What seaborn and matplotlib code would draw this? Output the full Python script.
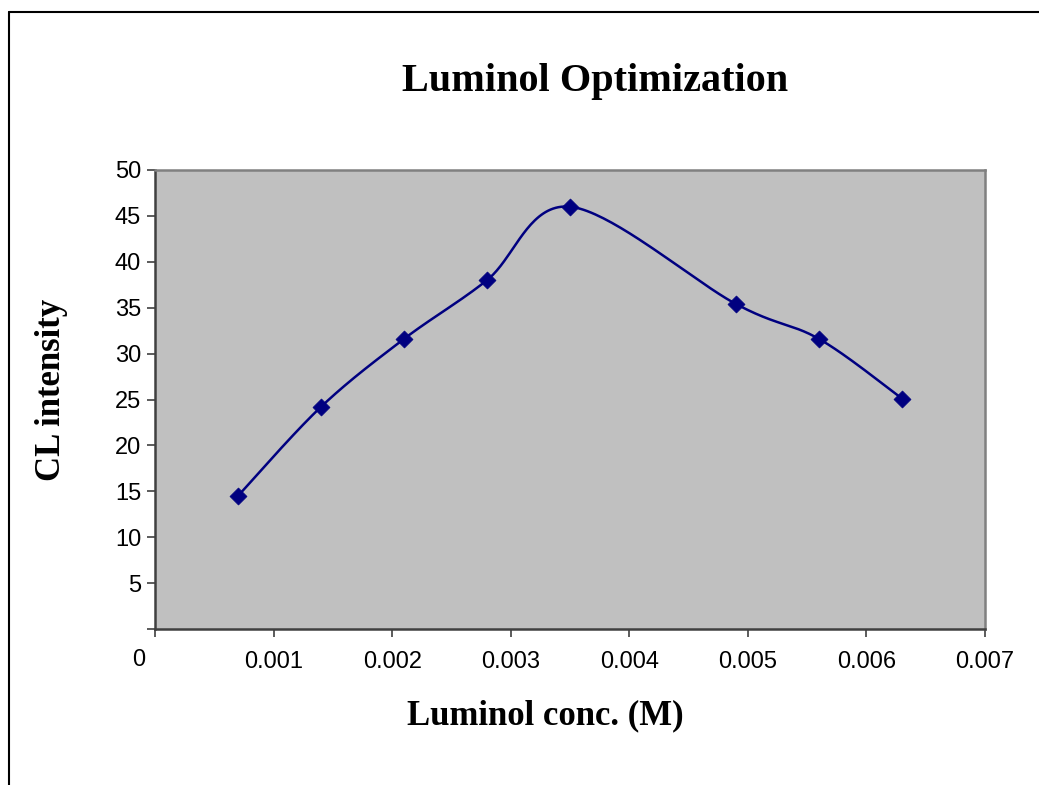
import numpy as np
import pandas as pd
import matplotlib
matplotlib.use("Agg")
import matplotlib.pyplot as plt
import seaborn as sns
from matplotlib.lines import Line2D

# ---- data ----
luminol_conc = [0.0007, 0.0014, 0.0021, 0.0028, 0.0035, 0.0049, 0.0056, 0.0063]
cl_intensity = [14.5, 24.2, 31.6, 38.0, 46.0, 35.4, 31.6, 25.1]
x_ticks = [0, 0.001, 0.002, 0.003, 0.004, 0.005, 0.006, 0.007]
x_tick_labels = ["0", "0.001", "0.002", "0.003", "0.004", "0.005", "0.006", "0.007"]
y_ticks = [0, 5, 10, 15, 20, 25, 30, 35, 40, 45, 50]
y_tick_labels = ["", "5", "10", "15", "20", "25", "30", "35", "40", "45", "50"]
title = "Luminol Optimization"
xlabel = "Luminol conc. (M)"
ylabel = "CL intensity"


def excel_smooth(xs, ys, n=40):
    """Bezier smoothing similar to Excel's smoothed line."""
    P = np.column_stack([xs, ys]).astype(float)
    out = []
    m = len(P)
    for i in range(m - 1):
        p0 = P[i - 1] if i > 0 else P[i]
        p1 = P[i]
        p2 = P[i + 1]
        p3 = P[i + 2] if i + 2 < m else P[i + 1]
        c1 = p1 + (p2 - p0) / 6.0
        c2 = p2 - (p3 - p1) / 6.0
        t = np.linspace(0, 1, n, endpoint=(i == m - 2))[:, None]
        seg = ((1 - t) ** 3) * p1 + 3 * ((1 - t) ** 2) * t * c1 + 3 * (1 - t) * t ** 2 * c2 + t ** 3 * p2
        out.append(seg)
    out = np.vstack(out)
    return out[:, 0], out[:, 1]


sx, sy = excel_smooth(luminol_conc, cl_intensity)
curve = pd.DataFrame({"x": sx, "y": sy})
pts = pd.DataFrame({"x": luminol_conc, "y": cl_intensity})

sns.set_theme(style="white")
plt.rcParams["font.family"] = ["Liberation Sans", "DejaVu Sans"]
plt.rcParams["text.color"] = "black"

W, H = 1039, 785
fig = plt.figure(figsize=(W / 100, H / 100), dpi=100)
ax = fig.add_axes([155 / W, (H - 629) / H, (985 - 155) / W, (629 - 170) / H])
ax.set_facecolor("#c0c0c0")

navy = "#000080"
sns.lineplot(data=curve, x="x", y="y", sort=False, estimator=None, ax=ax,
             color=navy, linewidth=1.8)
sns.scatterplot(data=pts, x="x", y="y", ax=ax, marker="D", s=75,
                color=navy, edgecolor=navy, linewidth=0.5, zorder=5)

ax.set_xlim(0, 0.007)
ax.set_ylim(0, 50)
ax.set_xticks(x_ticks)
ax.set_xticklabels(["" if l == "0" else l for l in x_tick_labels])
ax.set_yticks(y_ticks)
ax.set_yticklabels(y_tick_labels)
ax.tick_params(axis="both", direction="out", length=6, width=1.2, color="#404040",
               labelsize=17, labelcolor="black", bottom=True, left=True)
ax.tick_params(axis="x", pad=10)
ax.tick_params(axis="y", pad=4)

for side in ["left", "bottom"]:
    ax.spines[side].set_color("#404040")
    ax.spines[side].set_linewidth(1.8)
for side in ["top", "right"]:
    ax.spines[side].set_color("#808080")
    ax.spines[side].set_linewidth(1.8)
ax.set_xlabel("")
ax.set_ylabel("")

# zero label of x axis, offset left like the original
fig.text(139 / W, 1 - 660 / H, x_tick_labels[0], fontsize=17, ha="center", va="center",
         color="black")

serif = ["Liberation Serif", "DejaVu Serif"]
fig.text(595 / W, 1 - 82 / H, title, fontsize=29, fontweight="bold",
         family=serif, ha="center", va="center", color="black")
fig.text(545 / W, 1 - 716 / H, xlabel, fontsize=25, fontweight="bold",
         family=serif, ha="center", va="center", color="black")
fig.text(52 / W, 1 - 390 / H, ylabel, fontsize=25, fontweight="bold",
         family=serif, ha="center", va="center", rotation=90, color="black")

# outer chart border (left and top visible)
fig.add_artist(Line2D([9 / W, 9 / W], [0, 1 - 12 / H], transform=fig.transFigure,
                      color="black", linewidth=1.5))
fig.add_artist(Line2D([9 / W, 1], [1 - 12 / H, 1 - 12 / H], transform=fig.transFigure,
                      color="black", linewidth=1.5))

fig.savefig("out.png", dpi=100)
